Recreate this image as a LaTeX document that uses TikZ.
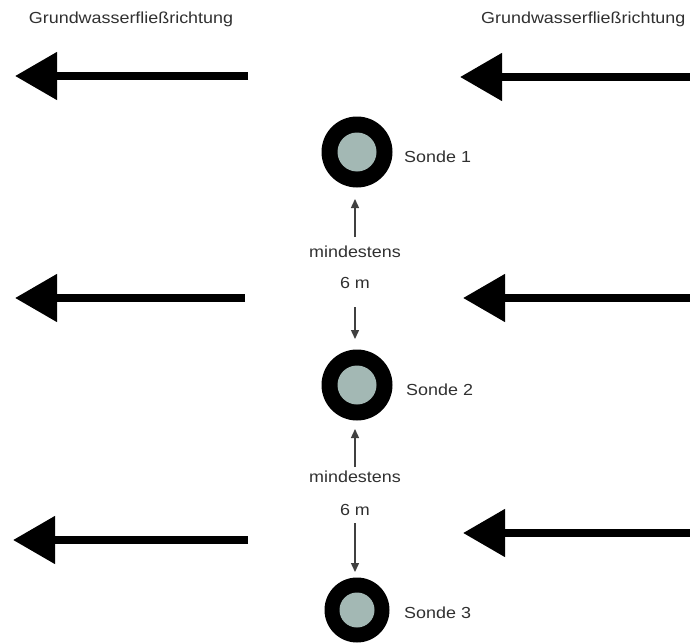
\documentclass[tikz,border=0pt]{standalone}
\usepackage{fontspec}
\setmainfont{Liberation Sans}
\usetikzlibrary{arrows.meta}
\definecolor{probe}{HTML}{A3B8B4}
\definecolor{txt}{HTML}{303030}
\begin{document}
\begin{tikzpicture}[x=1pt,y=-1pt,
  flow/.style={line width=8pt,-{Triangle[length=42pt,width=46pt]}},
  gap/.style={line width=1.4pt,draw=black!75,-{Triangle[length=9pt,width=8pt]}},
  lbl/.style={text=txt,font=\fontsize{16}{19}\selectfont,inner sep=0pt,xscale=1.12},
  ring/.style={circle,fill=black,inner sep=0pt},
  core/.style={circle,fill=probe,inner sep=0pt}]
\useasboundingbox (0,0) rectangle (690,642);
% titles
\node[lbl] (t1) at (131,19) {Grundwasserfließrichtung};
\node[lbl,anchor=west] (t2) at (481,19) {Grundwasserfließrichtung};
% flow arrows
\coordinate (l1s) at (248,76); \coordinate (l1e) at (15,76);
\coordinate (r1s) at (692,77); \coordinate (r1e) at (460,77);
\coordinate (l2s) at (245,298); \coordinate (l2e) at (15,298);
\coordinate (r2s) at (692,298); \coordinate (r2e) at (463,298);
\coordinate (l3s) at (248,540); \coordinate (l3e) at (13,540);
\coordinate (r3s) at (692,533); \coordinate (r3e) at (463,533);
\draw[flow] (l1s) -- (l1e);
\draw[flow] (r1s) -- (r1e);
\draw[flow] (l2s) -- (l2e);
\draw[flow] (r2s) -- (r2e);
\draw[flow] (l3s) -- (l3e);
\draw[flow] (r3s) -- (r3e);
% probes
\node[ring,minimum size=71pt] (s1) at (357,152) {};
\node[core,minimum size=39pt] at (s1) {};
\node[ring,minimum size=71pt] (s2) at (357,385) {};
\node[core,minimum size=39pt] at (s2) {};
\node[ring,minimum size=65pt] (s3) at (357,610) {};
\node[core,minimum size=35pt] at (s3) {};
\node[lbl,anchor=west] (n1) at (404,157) {Sonde 1};
\node[lbl,anchor=west] (n2) at (406,390) {Sonde 2};
\node[lbl,anchor=west] (n3) at (404,613) {Sonde 3};
% distances
\node[lbl] (m1) at (355,252) {mindestens};
\node[lbl] (d1) at (355,283) {6 m};
\node[lbl] (m2) at (355,477) {mindestens};
\node[lbl] (d2) at (355,510) {6 m};
\coordinate (a1) at (355,237); \coordinate (a1e) at (355,199);
\coordinate (b1) at (355,307); \coordinate (b1e) at (355,339);
\coordinate (a2) at (355,467); \coordinate (a2e) at (355,429);
\coordinate (b2) at (355,523); \coordinate (b2e) at (355,572);
\draw[gap] (a1) -- (a1e);
\draw[gap] (b1) -- (b1e);
\draw[gap] (a2) -- (a2e);
\draw[gap] (b2) -- (b2e);
\end{tikzpicture}
\end{document}
